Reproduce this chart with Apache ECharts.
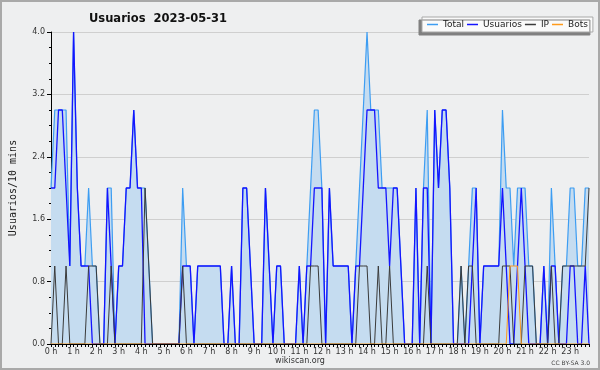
<!DOCTYPE html>
<html>
<head>
<meta charset="utf-8">
<script src="https://cdn.jsdelivr.net/npm/echarts@6/dist/echarts.min.js"></script>
<style>
html,body{margin:0;padding:0;background:#eeeff0;}
#chart{width:600px;height:370px;}
</style>
</head>
<body>
<div id="chart"></div>
<script>
// Hour tick labels (one every 6 ten-minute slots)
const hourLabels = ['0 h','1 h','2 h','3 h','4 h','5 h','6 h','7 h','8 h','9 h','10 h','11 h',
  '12 h','13 h','14 h','15 h','16 h','17 h','18 h','19 h','20 h','21 h','22 h','23 h'];
const slotsPerHour = 6;
const yTicks = [0.0, 0.8, 1.6, 2.4, 3.2, 4.0];

// Values per 10-minute slot
const total = [
  2,3,3,3,3,1,4,2,1,1, 2,1,1,0,0,2,2,0,1,1, 2,2,3,2,2,2,1,0,0,0,
  0,0,0,0,0,2,1,1,0,1, 1,1,1,1,1,1,0,0,1,0, 0,2,2,1,0,0,0,2,1,0,
  1,1,0,0,0,0,1,0,1,2, 3,3,2,0,2,1,1,1,1,1, 0,1,2,3,4,3,3,3,2,2,
  2,2,2,1,0,0,0,2,0,2, 3,0,3,2,3,3,2,0,0,1, 0,1,2,2,0,1,1,1,1,1,
  3,2,2,1,2,2,2,1,1,0, 0,1,0,2,1,0,1,1,2,2, 1,1,2,2];
const usuarios = [
  2,2,3,3,2,1,4,2,1,1, 1,0,0,0,0,2,1,0,1,1, 2,2,3,2,2,0,0,0,0,0,
  0,0,0,0,0,1,1,1,0,1, 1,1,1,1,1,1,0,0,1,0, 0,2,2,1,0,0,0,2,1,0,
  1,1,0,0,0,0,1,0,1,1, 2,2,2,0,2,1,1,1,1,1, 0,1,1,2,3,3,3,2,2,2,
  1,2,2,1,0,0,0,2,0,2, 2,0,3,2,3,3,2,0,0,0, 0,0,1,2,0,1,1,1,1,1,
  2,1,0,0,1,2,1,0,0,0, 0,1,0,1,1,0,0,0,1,1, 0,0,1,0];
const ip = [
  0,1,0,0,1,0,0,0,0,0, 1,1,1,0,0,0,1,0,0,0, 0,0,0,0,0,2,1,0,0,0,
  0,0,0,0,0,1,0,0,0,0, 0,0,0,0,0,0,0,0,0,0, 0,0,0,0,0,0,0,0,0,0,
  0,0,0,0,0,0,0,0,0,1, 1,1,0,0,0,0,0,0,0,0, 0,0,1,1,1,0,0,1,0,0,
  1,0,0,0,0,0,0,0,0,0, 1,0,0,0,0,0,0,0,0,1, 0,1,1,0,0,0,0,0,0,0,
  1,1,1,0,0,0,1,1,1,0, 0,0,0,1,0,0,1,1,1,1, 1,1,1,2];
const bots = [
  0,0,0,0,0,0,0,0,0,0, 0,0,0,0,0,0,0,0,0,0, 0,0,0,0,0,0,0,0,0,0,
  0,0,0,0,0,0,0,0,0,0, 0,0,0,0,0,0,0,0,0,0, 0,0,0,0,0,0,0,0,0,0,
  0,0,0,0,0,0,0,0,0,0, 0,0,0,0,0,0,0,0,0,0, 0,0,0,0,0,0,0,0,0,0,
  0,0,0,0,0,0,0,0,0,0, 0,0,0,0,0,0,0,0,0,0, 0,0,0,0,0,0,0,0,0,0,
  0,0,1,1,1,0,0,0,0,0, 0,0,0,0,0,0,0,0,0,0, 0,0,0,0];

// category per slot: "h:m0"
const categories = [];
hourLabels.forEach((_, h) => { for (let s = 0; s < slotsPerHour; s++) categories.push(h + ':' + s + '0'); });

const chart = echarts.init(document.getElementById('chart'), null, {renderer: 'canvas'});
const txt = '#222';
chart.setOption({
  animation: false,
  backgroundColor: '#eeeff0',
  title: {
    text: 'Usuarios  2023-05-31',
    left: 84, top: 8,
    textStyle: {fontFamily: 'DejaVu Sans', fontWeight: 'bold', fontSize: 11.5, color: '#111'}
  },
  legend: {
    data: ['Total', 'Usuarios', 'IP', 'Bots'],
    left: 422, top: 17,
    icon: 'rect', itemWidth: 11, itemHeight: 1.5, itemGap: 3,
    padding: [3, 5, 3, 5],
    backgroundColor: '#fafafa', borderColor: '#a8a8a8', borderWidth: 1,
    shadowColor: '#808080', shadowBlur: 0, shadowOffsetX: -3, shadowOffsetY: 3,
    textStyle: {fontFamily: 'DejaVu Sans', fontSize: 9, color: txt}
  },
  grid: {left: 46, right: 11, top: 32, bottom: 26},
  xAxis: {
    type: 'category', data: categories, boundaryGap: false, z: 5,
    axisLine: {lineStyle: {color: '#000', width: 1}},
    axisTick: {show: true, interval: 0, length: 3, lineStyle: {color: '#000'}},
    axisLabel: {
      interval: (i) => i % slotsPerHour === 0,
      formatter: (v, i) => hourLabels[Math.floor(i / slotsPerHour)],
      fontFamily: 'DejaVu Sans', fontSize: 8, color: '#333', margin: 4
    },
    splitLine: {show: false}
  },
  yAxis: {
    type: 'value', min: yTicks[0], max: yTicks[yTicks.length - 1], interval: yTicks[1] - yTicks[0],
    name: 'Usuarios/10 mins', nameLocation: 'middle', nameGap: 33,
    nameTextStyle: {fontFamily: 'DejaVu Sans Mono', fontSize: 10, color: txt},
    axisLine: {show: true, lineStyle: {color: '#000', width: 1}},
    axisTick: {show: true, length: 4, lineStyle: {color: '#000'}},
    minorTick: {show: true, splitNumber: 4, length: 2, lineStyle: {color: '#000'}},
    axisLabel: {formatter: (v) => v.toFixed(1), fontFamily: 'DejaVu Sans', fontSize: 8, color: '#333', margin: 6},
    splitLine: {show: true, lineStyle: {color: '#cfcfcf', width: 1}}
  },
  graphic: [
    {type: 'rect', shape: {x: 1, y: 1, width: 598, height: 368}, style: {fill: 'none', stroke: '#a9a9a9', lineWidth: 2}, z: 100},
    {type: 'text', left: 'center', top: 357, style: {text: 'wikiscan.org', font: '8px "DejaVu Sans"', fill: '#333'}},
    {type: 'text', right: 10, top: 360, style: {text: 'CC BY-SA 3.0', font: '6px "DejaVu Sans"', fill: '#444'}}
  ],
  series: [
    {name: 'Total', type: 'line', data: total, symbol: 'none', z: 2,
     lineStyle: {color: '#3d9df2', width: 1.2}, itemStyle: {color: '#3d9df2'},
     areaStyle: {color: '#c5dcf0', opacity: 1}},
    {name: 'Usuarios', type: 'line', data: usuarios, symbol: 'none', z: 3,
     lineStyle: {color: '#1414ff', width: 1.3}, itemStyle: {color: '#1414ff'}},
    {name: 'IP', type: 'line', data: ip, symbol: 'none', z: 4,
     lineStyle: {color: '#3a3a3a', width: 1}, itemStyle: {color: '#3a3a3a'}},
    {name: 'Bots', type: 'line', data: bots, symbol: 'none', z: 4,
     lineStyle: {color: '#ff9a1a', width: 1}, itemStyle: {color: '#ff9a1a'}}
  ]
});
</script>
</body>
</html>
